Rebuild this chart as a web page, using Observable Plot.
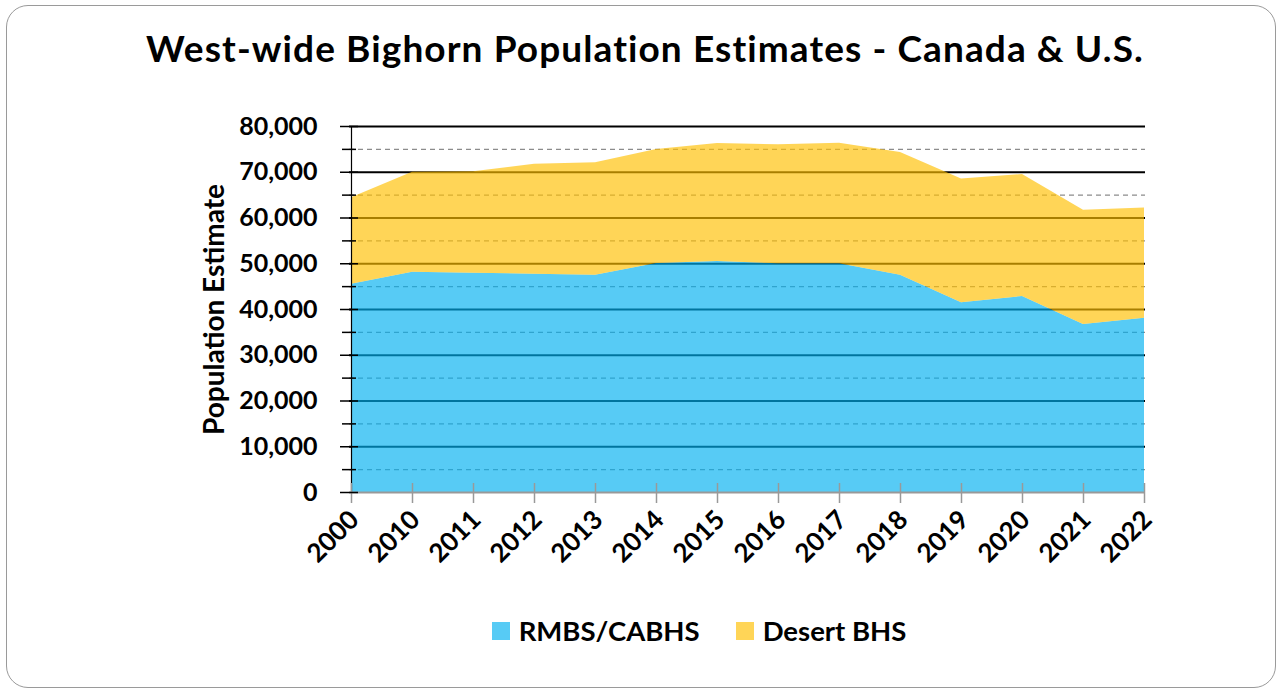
<!DOCTYPE html>
<html>
<head>
<meta charset="utf-8">
<script src="https://cdn.jsdelivr.net/npm/d3@7"></script>
<script src="https://cdn.jsdelivr.net/npm/@observablehq/plot@0.6"></script>
<style>
  body { margin: 0; background: #fff; font-family: Lato, "Open Sans", sans-serif; }
  #page { position: relative; width: 1278px; height: 689px; overflow: hidden; }
  #frame { position: absolute; left: 6px; top: 5px; width: 1270px; height: 683px; border: 1.5px solid #9a9a9a; border-radius: 22px; box-sizing: border-box; }
  #title { position: absolute; left: 0; width: 1290px; top: 27px; text-align: center; font-weight: 700; font-size: 37px; letter-spacing: 1.1px; line-height: 42px; color: #000; }
  #chart { position: absolute; left: 0; top: 100px; }
  #legend { position: absolute; top: 616px; left: 0; width: 1398px; display: flex; justify-content: center; align-items: center; font-weight: 700; font-size: 27.5px; line-height: 30px; color: #000; }
  .item { display: flex; align-items: center; margin: 0 18px; }
  .sw { width: 18px; height: 18px; margin-right: 9px; }
</style>
</head>
<body>
<div id="page">
  <div id="frame"></div>
  <div id="title">West-wide Bighorn Population Estimates - Canada &amp; U.S.</div>
  <div id="chart"></div>
  <div id="legend"></div>
</div>
<script>
const years = ["2000","2010","2011","2012","2013","2014","2015","2016","2017","2018","2019","2020","2021","2022"];
const seriesNames = ["RMBS/CABHS", "Desert BHS"];
const rmbs   = [45500, 48150, 47950, 47700, 47500, 50050, 50500, 50000, 50000, 47500, 41450, 42850, 36700, 38100];
const desert = [18900, 21850, 22150, 24050, 24550, 24900, 25800, 26000, 26350, 26800, 27050, 26650, 25000, 24100];
const seriesColors = ["#00B0F0", "#FFC000"];
const majorTicks = [0, 10000, 20000, 30000, 40000, 50000, 60000, 70000, 80000];
const minorTicks = [5000, 15000, 25000, 35000, 45000, 55000, 65000, 75000];
const yTitle = "Population Estimate";

const data = [];
years.forEach((yr, i) => data.push({year: yr, series: seriesNames[0], value: rmbs[i]}));
years.forEach((yr, i) => data.push({year: yr, series: seriesNames[1], value: desert[i]}));

const fontFamily = "Lato, 'Open Sans', sans-serif";

const chart = Plot.plot({
  width: 1278,
  height: 482,
  marginLeft: 349,
  marginRight: 133,
  marginTop: 26,
  marginBottom: 90,
  style: {fontFamily, fontWeight: 700, fontSize: "24px", color: "#000", overflow: "visible"},
  x: {type: "point", domain: years, padding: 0},
  y: {domain: [0, 80000]},
  color: {domain: seriesNames, range: seriesColors},
  marks: [
    Plot.ruleY(minorTicks, {stroke: "#8c8c8c", strokeWidth: 1.3, strokeDasharray: "5,4"}),
    Plot.ruleY(majorTicks.filter(d => d > 0), {stroke: "#000", strokeWidth: 1.8}),
    Plot.areaY(data, {x: "year", y: "value", fill: "series", fillOpacity: 0.66}),
    Plot.ruleX([years[0]], {stroke: "#000", strokeWidth: 1.2}),
    Plot.ruleY([0], {stroke: "#999", strokeWidth: 2}),
    Plot.axisX({tickSize: 20, dy: -9, stroke: "#999", strokeWidth: 1.5, fill: "none", label: null}),
    Plot.axisX({tickSize: 0, tickRotate: -45, tickPadding: 23, dx: 3, stroke: "none", fontSize: 26, label: null}),
    Plot.axisY({ticks: majorTicks, tickSize: 18, dx: 9, stroke: "#000", strokeWidth: 1.5, fill: "none", label: null}),
    Plot.axisY({ticks: minorTicks, tickSize: 14, dx: 7, stroke: "#000", strokeWidth: 1.5, fill: "none", label: null}),
    Plot.axisY({ticks: majorTicks, tickSize: 0, tickPadding: 32, stroke: "none", tickFormat: d3.format(","), fontSize: 25, label: null}),
    Plot.text([yTitle], {frameAnchor: "left", textAnchor: "middle", lineAnchor: "middle", rotate: -90, dx: -134, fontSize: 28, fontWeight: 700, fill: "#000"})
  ]
});
document.getElementById("chart").appendChild(chart);

const legend = document.getElementById("legend");
seriesNames.forEach((name, i) => {
  const item = document.createElement("div");
  item.className = "item";
  const sw = document.createElement("div");
  sw.className = "sw";
  sw.style.background = seriesColors[i];
  sw.style.opacity = 0.66;
  const t = document.createElement("span");
  t.textContent = name;
  item.appendChild(sw);
  item.appendChild(t);
  legend.appendChild(item);
});
</script>
</body>
</html>
